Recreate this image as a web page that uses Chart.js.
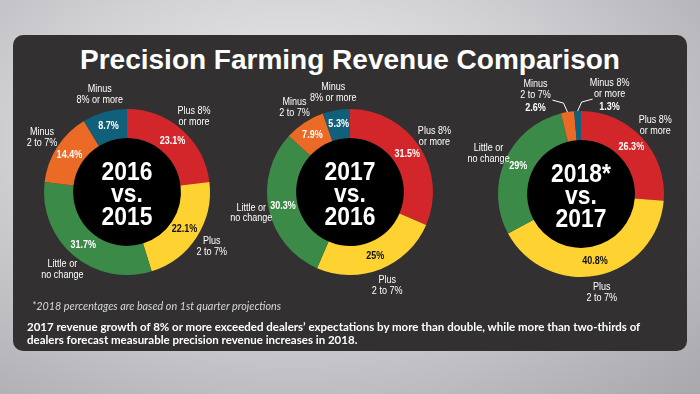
<!DOCTYPE html>
<html>
<head>
<meta charset="utf-8">
<script src="https://cdn.jsdelivr.net/npm/chart.js@4"></script>
<style>
body{margin:0;width:700px;height:394px;overflow:hidden;position:relative;
background:radial-gradient(ellipse at 42% 35%,#efeff1 0%,#d2d2d5 45%,#a7a7ac 100%);
font-family:"Liberation Sans",Arial,sans-serif}
#panel{position:absolute;left:13px;top:35px;width:674px;height:316px;background:#323031;border-radius:10px}
h1{position:absolute;left:0;top:40px;width:700px;margin:0;text-align:center;color:#fff;font:bold 28px/40px "Liberation Sans",Arial,sans-serif}
.wrap{position:absolute;width:260px;height:260px}
#note{position:absolute;left:32px;top:299px;color:#d8d8d8;font:italic 10.8px Lato,"DejaVu Sans",sans-serif}
#caption{position:absolute;left:27px;top:320px;width:650px;color:#fff;font:bold 11.5px/13px Lato,"DejaVu Sans",sans-serif}
</style>
</head>
<body>
<div id="panel"></div>
<h1>Precision Farming Revenue Comparison</h1>
<div class="wrap" style="left:-3px;top:62px"><canvas id="c1" width="260" height="260"></canvas></div>
<div class="wrap" style="left:220px;top:62px"><canvas id="c2" width="260" height="260"></canvas></div>
<div class="wrap" style="left:451px;top:64px"><canvas id="c3" width="260" height="260"></canvas></div>
<div id="note">*2018 percentages are based on 1st quarter projections</div>
<div id="caption">2017 revenue growth of 8% or more exceeded dealers’ expectations by more than double, while more than two-thirds of dealers forecast measurable precision revenue increases in 2018.</div>

<script>

const categories=["Plus 8%\nor more","Plus\n2 to 7%","Little or\nno change","Minus\n2 to 7%","Minus\n8% or more"]
const categories2018=["Plus 8%\nor more","Plus\n2 to 7%","Little or\nno change","Minus\n2 to 7%","Minus 8%\nor more"]

const colors=["#d3262b","#fdd231","#3c8a47","#ea6a26","#11607b"]

const values2016=[23.1,22.1,31.7,14.4,8.7]
const values2017=[31.5,25,30.3,7.9,5.3]
const values2018=[26.3,40.8,29,2.6,1.3]

const center2016=["2016","vs.","2015"]
const center2017=["2017","vs.","2016"]
const center2018=["2018*","vs.","2017"]

const face='"Liberation Sans",Arial,sans-serif'


// text squeezed sideways, the original uses a condensed face
function narrowText(ctx,t,x,y,sx){
ctx.save()
ctx.translate(x,y)
ctx.scale(sx||0.86,1)
ctx.fillText(t,0,0)
ctx.restore()
}


// black disc in the hole, year text, and the slice labels
const ringText={

id:"ringText",

beforeDatasetsDraw(chart){
let a=chart.getDatasetMeta(0).data[0]
let ctx=chart.ctx
ctx.save()
ctx.fillStyle="#000"
ctx.beginPath()
ctx.arc(a.x,a.y,a.innerRadius,0,Math.PI*2)
ctx.fill()
ctx.restore()
},

afterDatasetsDraw(chart,args,opts){

let ctx=chart.ctx
let meta=chart.getDatasetMeta(0)
let vals=chart.data.datasets[0].data
let labels=chart.data.labels

ctx.save()
ctx.textAlign="center"
ctx.textBaseline="middle"

let a0=meta.data[0]
ctx.fillStyle="#fff"
ctx.font="bold 26px "+face
opts.center.forEach((t,i)=>{
narrowText(ctx,t,a0.x,a0.y+3+(i-1)*22.5,0.88)
})

meta.data.forEach((arc,i)=>{

let p=arc.getProps(["x","y","startAngle","endAngle","innerRadius","outerRadius"])
let mid=(p.startAngle+p.endAngle)/2
let cos=Math.cos(mid),sin=Math.sin(mid)
let lines=labels[i].split("\n")
let pct=vals[i]+"%"

if(vals[i]>=5){

let rm=(p.innerRadius+p.outerRadius)/2
ctx.font="bold 10.5px "+face
ctx.fillStyle=i==1?"#111":"#fff"
narrowText(ctx,pct,p.x+cos*rm,p.y+sin*rm)

let ro=p.outerRadius+18
ctx.font="10.5px "+face
ctx.fillStyle="#fff"
lines.forEach((t,k)=>{
narrowText(ctx,t,p.x+cos*ro,p.y+sin*ro+(k-(lines.length-1)/2)*10.8)
})

}else{

// thin slices: label above with a leader line
let side=i==vals.length-1?1:-1
let ex=p.x+cos*p.outerRadius,ey=p.y+sin*p.outerRadius
let tx=ex+side*32,ty=ey-4

ctx.strokeStyle="#fff"
ctx.lineWidth=1
ctx.beginPath()
ctx.moveTo(ex,ey)
ctx.lineTo(ex+side*4,ey-9)
ctx.lineTo(ex+side*15,ey-12)
ctx.stroke()

ctx.fillStyle="#fff"
ctx.font="10.5px "+face
narrowText(ctx,lines[0],tx,ty-24)
narrowText(ctx,lines[1],tx,ty-13)
ctx.font="bold 10.5px "+face
narrowText(ctx,pct,tx,ty)

}

})

ctx.restore()

}

}


function makeDonut(id,labels,values,center){

return new Chart(document.getElementById(id),{

type:"doughnut",

data:{
labels:labels,
datasets:[{
data:values,
backgroundColor:colors,
borderWidth:0
}]
},

options:{
responsive:false,
animation:false,
cutout:"65%",
layout:{padding:47},
plugins:{
legend:{display:false},
tooltip:{enabled:false},
ringText:{center:center}
}
},

plugins:[ringText]

})

}

makeDonut("c1",categories,values2016,center2016)
makeDonut("c2",categories,values2017,center2017)
makeDonut("c3",categories2018,values2018,center2018)

</script>
</body>
</html>
